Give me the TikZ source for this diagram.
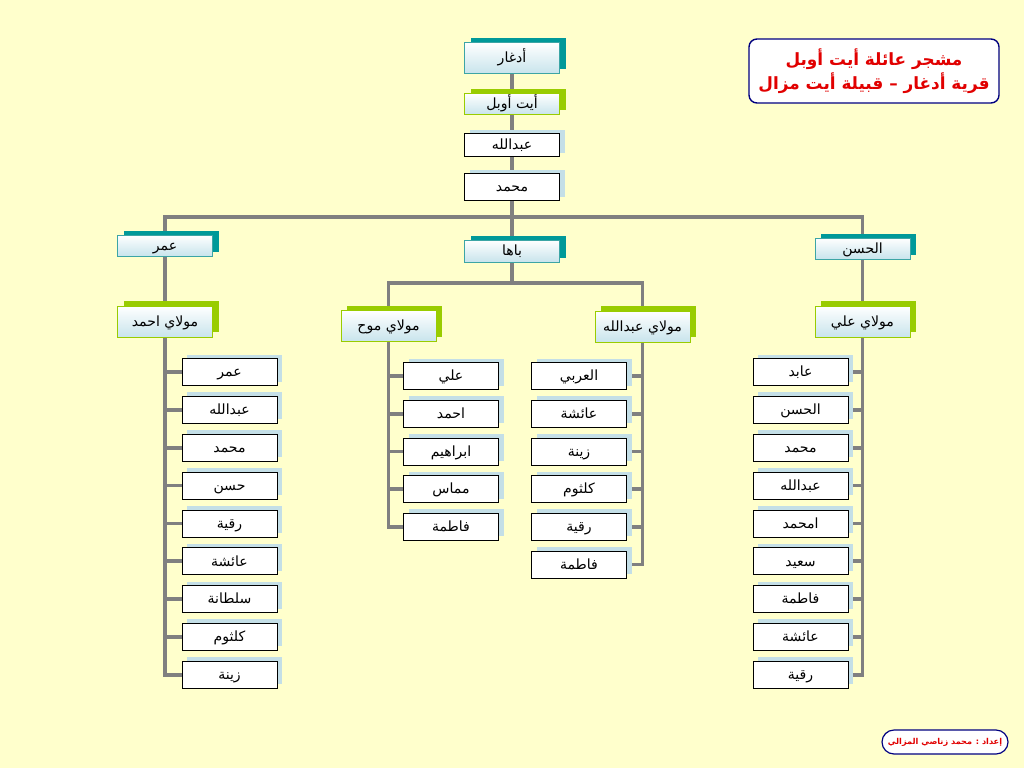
\documentclass[tikz,border=0pt]{standalone}
\usepackage{fontspec}
\newfontfamily\arabicfont[Script=Arabic]{DejaVu Sans}
\TeXXeTstate=1
\usetikzlibrary{shadows,positioning}
\definecolor{bgyellow}{RGB}{255,255,204}
\definecolor{tealc}{RGB}{0,153,153}
\definecolor{tealline}{RGB}{60,165,165}
\definecolor{greenc}{RGB}{153,204,0}
\definecolor{paleblue}{RGB}{196,223,231}
\definecolor{boxshade}{RGB}{200,228,236}
\definecolor{linegray}{RGB}{128,128,128}
\definecolor{navyc}{RGB}{0,0,128}
\definecolor{titlered}{RGB}{225,0,0}
\newcommand{\artxt}[1]{{\arabicfont\beginR #1\endR}}
\pgfdeclarelayer{background}
\pgfdeclarelayer{edges}
\pgfsetlayers{background,edges,main}

\begin{document}
\begin{tikzpicture}[x=0.25mm,y=-0.25mm,
  box/.style={rectangle, inner sep=0pt, minimum width=23.75mm,
    minimum height=6.75mm, text height=3mm, text depth=0.6mm,
    font=\fontsize{10}{12}\selectfont},
  tealbox/.style={box, draw=tealline, top color=white, bottom color=boxshade,
    drop shadow={shadow xshift=1.5mm, shadow yshift=1.1mm, fill=tealc, opacity=1}},
  greenbox/.style={box, draw=greenc, top color=white, bottom color=boxshade,
    drop shadow={shadow xshift=1.5mm, shadow yshift=1.2mm, fill=greenc, opacity=1}},
  namebox/.style={box, draw=black, fill=white,
    drop shadow={shadow xshift=1.25mm, shadow yshift=1mm, fill=paleblue, opacity=1}},
  link/.style={draw=linegray, line width=0.9mm}]
  \useasboundingbox (0,0) rectangle (1024,768);
  \begin{pgfonlayer}{background}
    \fill[bgyellow] (0,0) rectangle (1024,768);
  \end{pgfonlayer}

  \node[rectangle, rounded corners=2mm, draw=navyc, line width=0.35mm,
    fill=white, minimum width=62.5mm, minimum height=16mm, align=center,
    text=titlered, font=\fontsize{12}{17}\selectfont\bfseries] (title) at (874,71)
    {\artxt{مشجر عائلة أيت أوبل}\\\artxt{قرية أدغار – قبيلة أيت مزال}};

  \node[tealbox, minimum height=7.75mm] (adghar) at (512,58) {\artxt{أدغار}};
  \node[greenbox, minimum height=5.25mm] (ait) at (512,104) {\artxt{أيت أوبل}};
  \node[namebox, minimum height=5.75mm] (abdallah) at (512,145) {\artxt{عبدالله}};
  \node[namebox] (mohamed) at (512,187) {\artxt{محمد}};

  \node[tealbox, minimum height=5.25mm] (omar) at (165,245.5) {\artxt{عمر}};
  \node[tealbox, minimum height=5.5mm] (baha) at (512,251) {\artxt{باها}};
  \node[tealbox, minimum height=5.25mm] (hassan) at (862.5,248.5) {\artxt{الحسن}};

  \node[greenbox, minimum height=7.75mm] (mahmed) at (165,321.5) {\artxt{مولاي احمد}};
  \node[greenbox, minimum height=7.75mm] (mouh) at (388.5,326) {\artxt{مولاي موح}};
  \node[greenbox, minimum height=7.75mm] (mabdallah) at (642.5,326.5) {\artxt{مولاي عبدالله}};
  \node[greenbox, minimum height=7.75mm] (mali) at (862.5,321.5) {\artxt{مولاي علي}};

  \foreach \name [count=\i] in {عمر,عبدالله,محمد,حسن,رقية,عائشة,سلطانة,كلثوم,زينة}
    \node[namebox] (a\i) at (229.5,{372+37.85*(\i-1)}) {\artxt{\name}};
  \foreach \name [count=\i] in {علي,احمد,ابراهيم,مماس,فاطمة}
    \node[namebox] (m\i) at (451,{376+37.7*(\i-1)}) {\artxt{\name}};
  \foreach \name [count=\i] in {العربي,عائشة,زينة,كلثوم,رقية,فاطمة}
    \node[namebox] (b\i) at (579,{376+37.7*(\i-1)}) {\artxt{\name}};
  \foreach \name [count=\i] in {عابد,الحسن,محمد,عبدالله,امحمد,سعيد,فاطمة,عائشة,رقية}
    \node[namebox] (h\i) at (800.5,{372+37.85*(\i-1)}) {\artxt{\name}};

  \node[rectangle, rounded corners=3mm, draw=navyc, line width=0.3mm, fill=white,
    minimum width=31.5mm, minimum height=6mm, inner sep=0pt, text=titlered,
    font=\fontsize{5.8}{7}\selectfont\bfseries] (credit) at (945,742)
    {\artxt{إعداد : محمد زناصي المزالي}};

  \begin{pgfonlayer}{edges}
    \coordinate (fork) at (512,217);
    \coordinate (bfork) at (512,283);
    \draw[link] (adghar) -- (mohamed);
    \draw[link] (mohamed) -- (fork);
    \draw[link] (omar.north) |- (fork) -| (hassan.north);
    \draw[link] (fork) -- (baha);
    \draw[link] (omar) -- (mahmed);
    \draw[link] (hassan) -- (mali);
    \draw[link] (baha) -- (bfork);
    \draw[link] (mouh.north) |- (bfork) -| (mabdallah.north);
    \foreach \i in {1,...,9} {
      \draw[link] (mahmed.south) |- (a\i.west);
      \draw[link] (mali.south) |- (h\i.east);
    }
    \foreach \i in {1,...,5}
      \draw[link] (mouh.south) |- (m\i.west);
    \foreach \i in {1,...,6}
      \draw[link] (mabdallah.south) |- (b\i.east);
  \end{pgfonlayer}
\end{tikzpicture}
\end{document}
